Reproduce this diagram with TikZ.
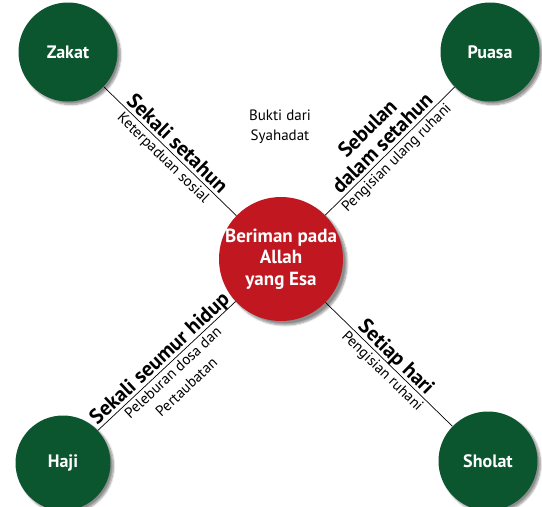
\documentclass[tikz,border=0pt]{standalone}
\usepackage{fontspec}
\setmainfont{PT Sans}
\usetikzlibrary{shadows.blur}
\definecolor{pgreen}{RGB}{11,86,46}
\definecolor{pred}{RGB}{193,23,32}
\begin{document}
\begin{tikzpicture}[x=1pt,y=-1pt,
  gcirc/.style={circle, fill=pgreen, minimum size=99pt, inner sep=0pt, text=white,
    font=\fontsize{18}{20}\selectfont\bfseries,
    blur shadow={shadow xshift=3pt, shadow yshift=-3pt, shadow blur steps=8, shadow opacity=45}},
  rcirc/.style={circle, fill=pred, minimum size=124pt, inner sep=0pt,
    blur shadow={shadow xshift=4pt, shadow yshift=-4pt, shadow blur steps=8, shadow opacity=45}},
  ctext/.style={text=white, align=center, inner sep=0pt,
    font=\fontsize{19}{21.5}\selectfont\bfseries},
  link/.style={draw=black, line width=0.7pt},
  biglab/.style={midway, sloped, above, inner sep=3.5pt, text depth=0pt, align=center,
    font=\fontsize{21}{21}\selectfont\bfseries},
  smalllab/.style={midway, sloped, below, inner sep=3pt, align=center,
    font=\fontsize{15}{20}\selectfont}
]
\useasboundingbox (0,0) rectangle (542,507);
\clip (0,0) rectangle (542,507);

\node[gcirc] (Z) at (68,52) {Zakat};
\node[gcirc] (P) at (490,52) {Puasa};
\node[gcirc, minimum size=95pt] (H) at (63,463) {Haji};
\node[gcirc] (S) at (488,461) {Sholat};
\node[rcirc] (C) at (281,259) {};
\node[ctext] (Ct) at (C) {Beriman pada\\Allah\\yang Esa};

\node[align=center, font=\fontsize{15}{20}\selectfont] (B) at (280,127) {Bukti dari\\Syahadat};

\draw[link] (Z) -- (C)
  node[biglab] {Sekali setahun}
  node[smalllab] {Keterpaduan sosial};
\draw[link] (C) -- (P)
  node[biglab] {Sebulan\\dalam setahun}
  node[smalllab] {Pengisian ulang ruhani};
\draw[link] (H) -- (C)
  node[biglab] {Sekali seumur hidup}
  node[smalllab] {Peleburan dosa dan\\Pertaubatan};
\draw[link] (C) -- (S)
  node[biglab] {Setiap hari}
  node[smalllab] {Pengisian ruhani};
\end{tikzpicture}
\end{document}
